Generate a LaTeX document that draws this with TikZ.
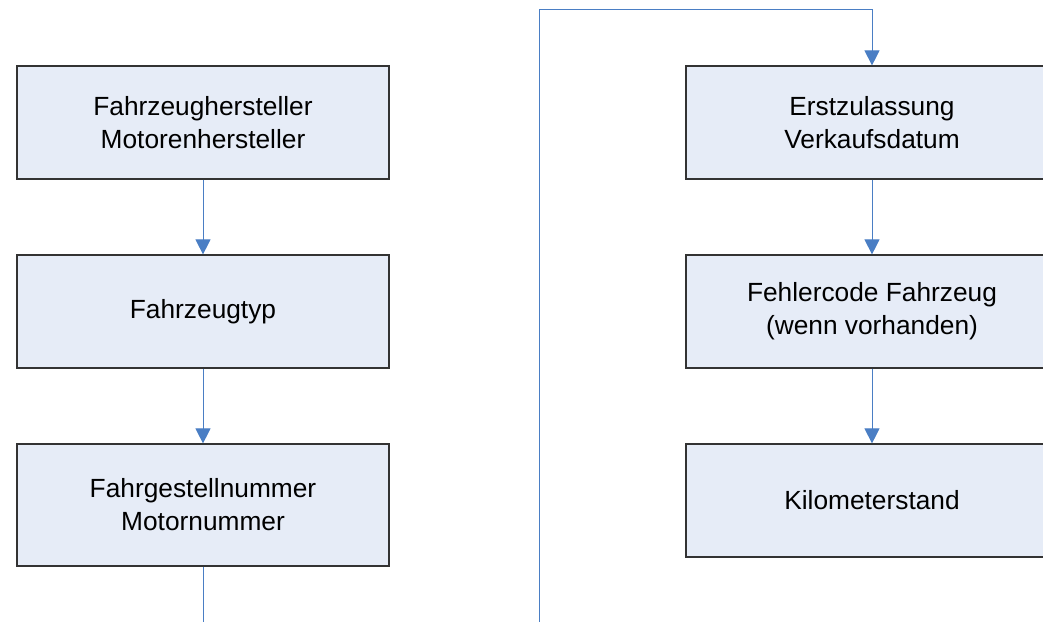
\documentclass[tikz,border=0pt]{standalone}
\usepackage{fontspec}
\setmainfont{Liberation Sans}
\usetikzlibrary{arrows.meta}
\definecolor{boxfill}{HTML}{E6ECF7}
\definecolor{boxline}{HTML}{333333}
\definecolor{conn}{HTML}{4A7EC4}
\begin{document}
\begin{tikzpicture}[x=1pt,y=-1pt,
  flowbox/.style={draw=boxline,line width=1.2pt,fill=boxfill,minimum width=372pt,
    inner sep=0pt,align=center,font=\fontsize{26.3}{33}\selectfont},
  conline/.style={draw=conn,line width=1pt},
  conarrow/.style={conline,-{Triangle[width=15pt,length=15pt]}}]
\clip (0,0) rectangle (1043,621);
\useasboundingbox (0,0) rectangle (1043,621);
\node[flowbox,minimum height=113pt] (l1) at (203,122.5) {Fahrzeughersteller\\Motorenhersteller};
\node[flowbox,minimum height=113pt] (l2) at (203,311.5) {Fahrzeugtyp};
\node[flowbox,minimum height=122pt] (l3) at (203,505) {Fahrgestellnummer\\Motornummer};
\node[flowbox,minimum height=113pt] (r1) at (872,122.5) {Erstzulassung\\Verkaufsdatum};
\node[flowbox,minimum height=113pt] (r2) at (872,311.5) {Fehlercode Fahrzeug\\(wenn vorhanden)};
\node[flowbox,minimum height=113pt] (r3) at (872,500.5) {Kilometerstand};
\coordinate (lout) at (203,622);
\coordinate (rin) at (539,622);
\coordinate (top) at (539,9);
\draw[conarrow] (l1) -- (l2);
\draw[conarrow] (l2) -- (l3);
\draw[conline] (l3) -- (lout);
\draw[conarrow] (rin) -- (top) -| (r1);
\draw[conarrow] (r1) -- (r2);
\draw[conarrow] (r2) -- (r3);
\end{tikzpicture}
\end{document}
